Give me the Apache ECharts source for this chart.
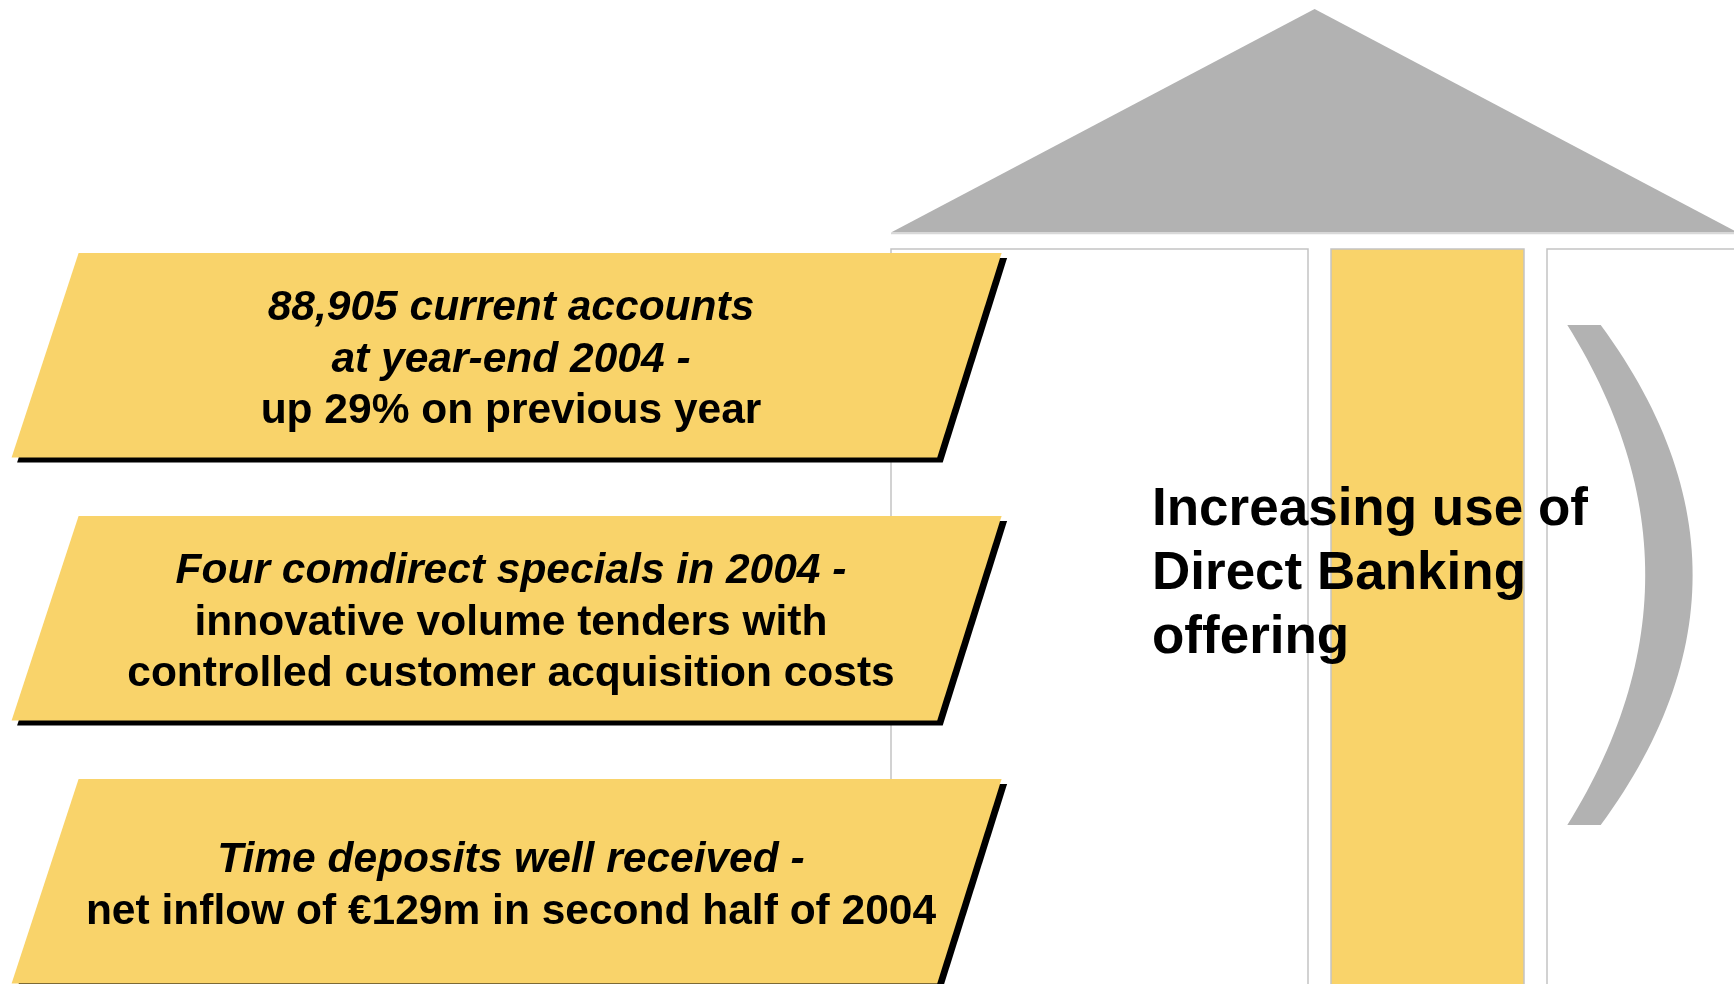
<!DOCTYPE html>
<html>
<head>
<meta charset="utf-8">
<title>Increasing use of Direct Banking offering</title>
<script src="https://cdn.jsdelivr.net/npm/echarts@6/dist/echarts.min.js"></script>
<style>
html, body { margin: 0; padding: 0; background: #fff; }
#main { width: 1734px; height: 984px; }
</style>
</head>
<body>
<div id="main"></div>
<script>
// texts of the three yellow panels: italic lead lines, then plain lines
var panelItalic = [
	['88,905 current accounts', 'at year-end 2004 -'],
	['Four comdirect specials in 2004 -'],
	['Time deposits well received -']
];
var panelPlain = [
	['up 29% on previous year'],
	['innovative volume tenders with', 'controlled customer acquisition costs'],
	['net inflow of €129m in second half of 2004']
];
var pillarLabel = ['Increasing use of', 'Direct Banking', 'offering'];

var FONT = '"Liberation Sans", Arial, Helvetica, sans-serif';
var YELLOW = '#f9d36a';
var GREY = '#b2b2b2';
var W = 1734, H = 984;

// panel layout in page pixels
var panelTop = [253, 516, 779];
var panelH = 204.5;

//building: roof, three columns, bracket and label
function renderBuilding(params, api){
	function pt(x, y){ return api.coord([x, y]); }
	var children = [];
	var cols = [[891, 1308, '#fff'], [1331, 1524, YELLOW], [1547, 1770, '#fff']];
	cols.forEach(function(c){
		var a = pt(c[0], 249), b = pt(c[1], H + 30);
		children.push({
			type: 'rect',
			shape: {x: a[0], y: a[1], width: b[0] - a[0], height: b[1] - a[1]},
			style: {fill: c[2], stroke: '#c3c3c3', lineWidth: 1.5}
		});
	});
	children.push({
		type: 'polygon',
		shape: {points: [pt(891, 232.5), pt(1314.6, 9), pt(1738, 232.5)]},
		style: {fill: GREY}
	});
	var l0 = pt(891, 233.5), l1 = pt(1740, 233.5);
	children.push({
		type: 'line',
		shape: {x1: l0[0], y1: l0[1], x2: l1[0], y2: l1[1]},
		style: {stroke: '#d8d8d8', lineWidth: 1.5}
	});
	// bracket: outer and inner quadratic curves
	function quad(x0, cx, t){ return x0 * (1 - t) * (1 - t) + 2 * cx * t * (1 - t) + x0 * t * t; }
	var pts = [], n = 60, k;
	for(k = 0; k <= n; k++){
		var t = k / n;
		pts.push(pt(quad(1600.7, 1784.5, t), 325 + 500 * t));
	}
	for(k = n; k >= 0; k--){
		var t2 = k / n;
		pts.push(pt(quad(1567.3, 1723.1, t2), 325 + 500 * t2));
	}
	children.push({type: 'polygon', shape: {points: pts}, style: {fill: GREY}});
	var lp = pt(1152, 574);
	children.push({
		type: 'text',
		x: lp[0],
		y: lp[1],
		style: {
			text: pillarLabel.join('\n'),
			fill: '#000',
			fontFamily: FONT,
			fontWeight: 'bold',
			fontSize: 53,
			lineHeight: 64,
			align: 'left',
			verticalAlign: 'middle'
		}
	});
	return {type: 'group', children: children};
}

//yellow slanted panels with drop shadow
function renderPanel(params, api){
	function pt(x, y){ return api.coord([x, y]); }
	var i = params.dataIndex;
	var top = panelTop[i], bot = top + panelH;
	var shape = [[78.6, top], [1001.6, top], [937.2, bot], [11.6, bot]];
	var lines = [];
	panelItalic[i].forEach(function(s){ lines.push('{i|' + s + '}'); });
	panelPlain[i].forEach(function(s){ lines.push('{b|' + s + '}'); });
	var c = pt(511, top + panelH / 2 + 5);
	var base = {fontFamily: FONT, fontWeight: 'bold', fontSize: 42.5, lineHeight: 51.5, fill: '#000', align: 'center'};
	return {
		type: 'group',
		children: [
			{
				type: 'polygon',
				shape: {points: shape.map(function(p){ return pt(p[0] + 5.5, p[1] + 5); })},
				style: {fill: '#000'}
			},
			{
				type: 'polygon',
				shape: {points: shape.map(function(p){ return pt(p[0], p[1]); })},
				style: {fill: YELLOW}
			},
			{
				type: 'text',
				x: c[0],
				y: c[1],
				style: {
					text: lines.join('\n'),
					align: 'center',
					verticalAlign: 'middle',
					rich: {
						i: Object.assign({}, base, {fontStyle: 'italic'}),
						b: Object.assign({}, base)
					}
				}
			}
		]
	};
}

var option = {
	backgroundColor: '#fff',
	animation: false,
	grid: {left: 0, right: 0, top: 0, bottom: 0},
	xAxis: {type: 'value', min: 0, max: W, show: false},
	yAxis: {type: 'value', min: 0, max: H, inverse: true, show: false},
	series: [
		{
			type: 'custom',
			renderItem: renderBuilding,
			data: [[0, 0]],
			silent: true,
			clip: false
		},
		{
			type: 'custom',
			renderItem: renderPanel,
			data: panelItalic.map(function(d, i){ return [i, 0]; }),
			silent: true,
			clip: false
		}
	]
};

var myChart = echarts.init(document.getElementById('main'));
myChart.setOption(option);
</script>
</body>
</html>
